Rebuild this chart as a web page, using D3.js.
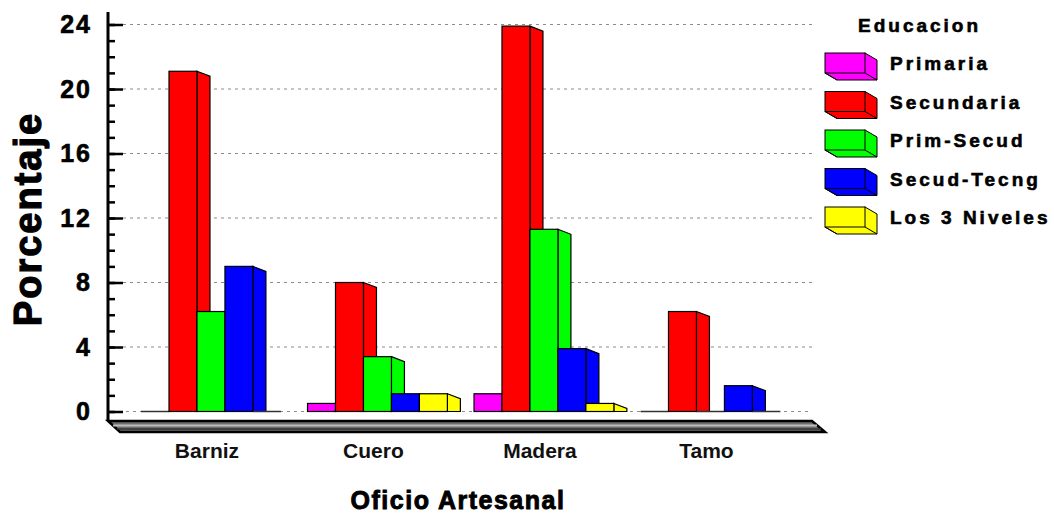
<!DOCTYPE html>
<html>
<head>
<meta charset="utf-8">
<script src="https://cdn.jsdelivr.net/npm/d3@7"></script>
<style>
  body { margin: 0; background: #fff; }
  svg { display: block; font-family: 'Liberation Sans', Arial, sans-serif; }
</style>
</head>
<body>
<div id="chart"></div>
<script>
const categories = ['Barniz', 'Cuero', 'Madera', 'Tamo'];
const seriesNames = ['Primaria', 'Secundaria', 'Prim-Secud', 'Secud-Tecng', 'Los 3 Niveles'];
const primaria = [0, 0.5, 1.1, 0];
const secundaria = [21.1, 8.0, 23.9, 6.2];
const primSecud = [6.2, 3.4, 11.3, 0];
const secudTecng = [9.0, 1.1, 3.9, 1.6];
const losTresNiveles = [0, 1.1, 0.5, 0];
const colors = ['#ff00ff', '#ff0000', '#00ff00', '#0000ff', '#ffff00'];
const majorTicks = [0, 4, 8, 12, 16, 20, 24];

const seriesValues = [primaria, secundaria, primSecud, secudTecng, losTresNiveles];

const width = 1054;
const height = 514;
const axisX = 108;
const gridRight = 812;
const depth = { x: 13, y: 5 };

const svg = d3.select('#chart').append('svg').attr('width', width).attr('height', height);

const y = d3.scaleLinear().domain([0, 24]).range([411.5, 24.5]);
const x = d3.scaleBand().domain(categories).range([114.4, 807]).paddingInner(0.16).paddingOuter(0.16);
const xs = d3.scaleBand().domain(seriesNames).range([0, x.bandwidth()]);

// grid lines (dotted)
svg.append('g').selectAll('line')
  .data(majorTicks)
  .join('line')
  .attr('x1', d => d === 0 ? axisX + 4 : axisX + 15)
  .attr('x2', gridRight)
  .attr('y1', d => y(d)).attr('y2', d => y(d))
  .attr('stroke', '#8c8c8c')
  .attr('stroke-width', 1.2)
  .attr('stroke-dasharray', '3,4');

// floor slab
const floorTop = 421, floorBottom = 432;
svg.append('path')
  .attr('d', `M${axisX},${floorTop}L${gridRight},${floorTop}L${gridRight + 13},${floorBottom}L${axisX + 12},${floorBottom}Z`)
  .attr('fill', '#6e6e6e')
  .attr('stroke', '#000')
  .attr('stroke-width', 2.5);
svg.append('line')
  .attr('x1', axisX + 5).attr('x2', gridRight + 5)
  .attr('y1', floorTop + 4.5).attr('y2', floorTop + 4.5)
  .attr('stroke', '#bdbdbd').attr('stroke-width', 2);
svg.append('line')
  .attr('x1', axisX + 9).attr('x2', gridRight + 9)
  .attr('y1', floorTop + 8).attr('y2', floorTop + 8)
  .attr('stroke', '#333').attr('stroke-width', 1.5);

// bars with 3d side
const groups = svg.append('g').selectAll('g')
  .data(categories)
  .join('g')
  .attr('transform', d => `translate(${x(d)},0)`);

groups.each(function(cat, ci) {
  const g = d3.select(this);
  seriesNames.forEach((s, si) => {
    const v = seriesValues[si][ci];
    const x0 = xs(s), x1 = xs(s) + xs.bandwidth();
    const top = y(v), base = y(0);
    if (v > 0) {
      g.append('path')
        .attr('d', `M${x1},${top}L${x1 + depth.x},${top + depth.y}L${x1 + depth.x},${base}L${x1},${base}Z`)
        .attr('fill', colors[si])
        .attr('stroke', '#000')
        .attr('stroke-width', 1.2);
      g.append('rect')
        .attr('x', x0).attr('y', top)
        .attr('width', xs.bandwidth()).attr('height', base - top)
        .attr('fill', colors[si])
        .attr('stroke', '#000')
        .attr('stroke-width', 1.2);
    } else {
      g.append('line')
        .attr('x1', x0).attr('x2', x1)
        .attr('y1', base).attr('y2', base)
        .attr('stroke', '#333').attr('stroke-width', 1.5);
    }
  });
});

// y axis
const yAxis = svg.append('g')
  .attr('transform', `translate(${axisX},0)`)
  .call(d3.axisLeft(y).tickValues(majorTicks).tickSize(-15).tickPadding(16));
yAxis.select('.domain').remove();
yAxis.selectAll('line').attr('stroke', '#000').attr('stroke-width', 2.5);
yAxis.selectAll('text')
  .attr('fill', '#000')
  .attr('stroke', '#000')
  .attr('stroke-width', 0.6)
  .style('font-size', '25px')
  .style('font-weight', 'bold')
  .style('letter-spacing', '2px');

const yMinor = svg.append('g')
  .attr('transform', `translate(${axisX},0)`)
  .call(d3.axisLeft(y).tickValues(d3.range(0, 25)).tickSize(-7).tickFormat(''));
yMinor.select('.domain').remove();
yMinor.selectAll('line').attr('stroke', '#000').attr('stroke-width', 2.5);

svg.append('line')
  .attr('x1', axisX).attr('x2', axisX)
  .attr('y1', 12).attr('y2', floorTop)
  .attr('stroke', '#000').attr('stroke-width', 3);

// x labels
svg.append('g').selectAll('text')
  .data(categories)
  .join('text')
  .attr('x', d => x(d) + x.bandwidth() / 2 - 4)
  .attr('y', 458)
  .attr('text-anchor', 'middle')
  .style('font-size', '21px')
  .style('font-weight', 'bold')
  .attr('fill', '#111')
  .text(d => d);

// titles
svg.append('text')
  .attr('transform', 'translate(41,219) rotate(-90)')
  .attr('text-anchor', 'middle')
  .attr('stroke', '#000')
  .attr('stroke-width', 1.2)
  .style('font-size', '38px')
  .style('font-weight', 'bold')
  .style('letter-spacing', '2px')
  .text('Porcentaje');

svg.append('text')
  .attr('x', 458).attr('y', 509)
  .attr('text-anchor', 'middle')
  .attr('stroke', '#000')
  .attr('stroke-width', 0.9)
  .style('font-size', '25px')
  .style('font-weight', 'bold')
  .style('letter-spacing', '1.5px')
  .text('Oficio Artesanal');

// legend
const legend = svg.append('g');
legend.append('text')
  .attr('x', 858).attr('y', 32)
  .attr('stroke', '#000')
  .attr('stroke-width', 0.6)
  .style('font-size', '19px')
  .style('font-weight', 'bold')
  .style('letter-spacing', '3px')
  .text('Educacion');

const ly = d3.scalePoint().domain(seriesNames).range([53, 207]);
const sw = 40, sh = 20, ldx = 12, ldy = 7;
const item = legend.selectAll('g.item')
  .data(seriesNames)
  .join('g')
  .attr('class', 'item')
  .attr('transform', d => `translate(825,${ly(d)})`);

item.append('path')
  .attr('d', `M${sw},0L${sw + ldx},${ldy}L${sw + ldx},${sh + ldy}L${ldx},${sh + ldy}L0,${sh}Z`)
  .attr('fill', (d, i) => colors[i])
  .attr('stroke', '#000').attr('stroke-width', 1);
item.append('path')
  .attr('d', `M0,${sh}L${ldx},${sh + ldy}M${sw},${sh}L${sw + ldx},${sh + ldy}`)
  .attr('stroke', '#000').attr('stroke-width', 1);
item.append('rect')
  .attr('width', sw).attr('height', sh)
  .attr('fill', (d, i) => colors[i])
  .attr('stroke', '#000').attr('stroke-width', 1);
item.append('text')
  .attr('x', 65).attr('y', 17)
  .attr('stroke', '#000')
  .attr('stroke-width', 0.6)
  .style('font-size', '19px')
  .style('font-weight', 'bold')
  .style('letter-spacing', '3px')
  .text(d => d);
</script>
</body>
</html>
